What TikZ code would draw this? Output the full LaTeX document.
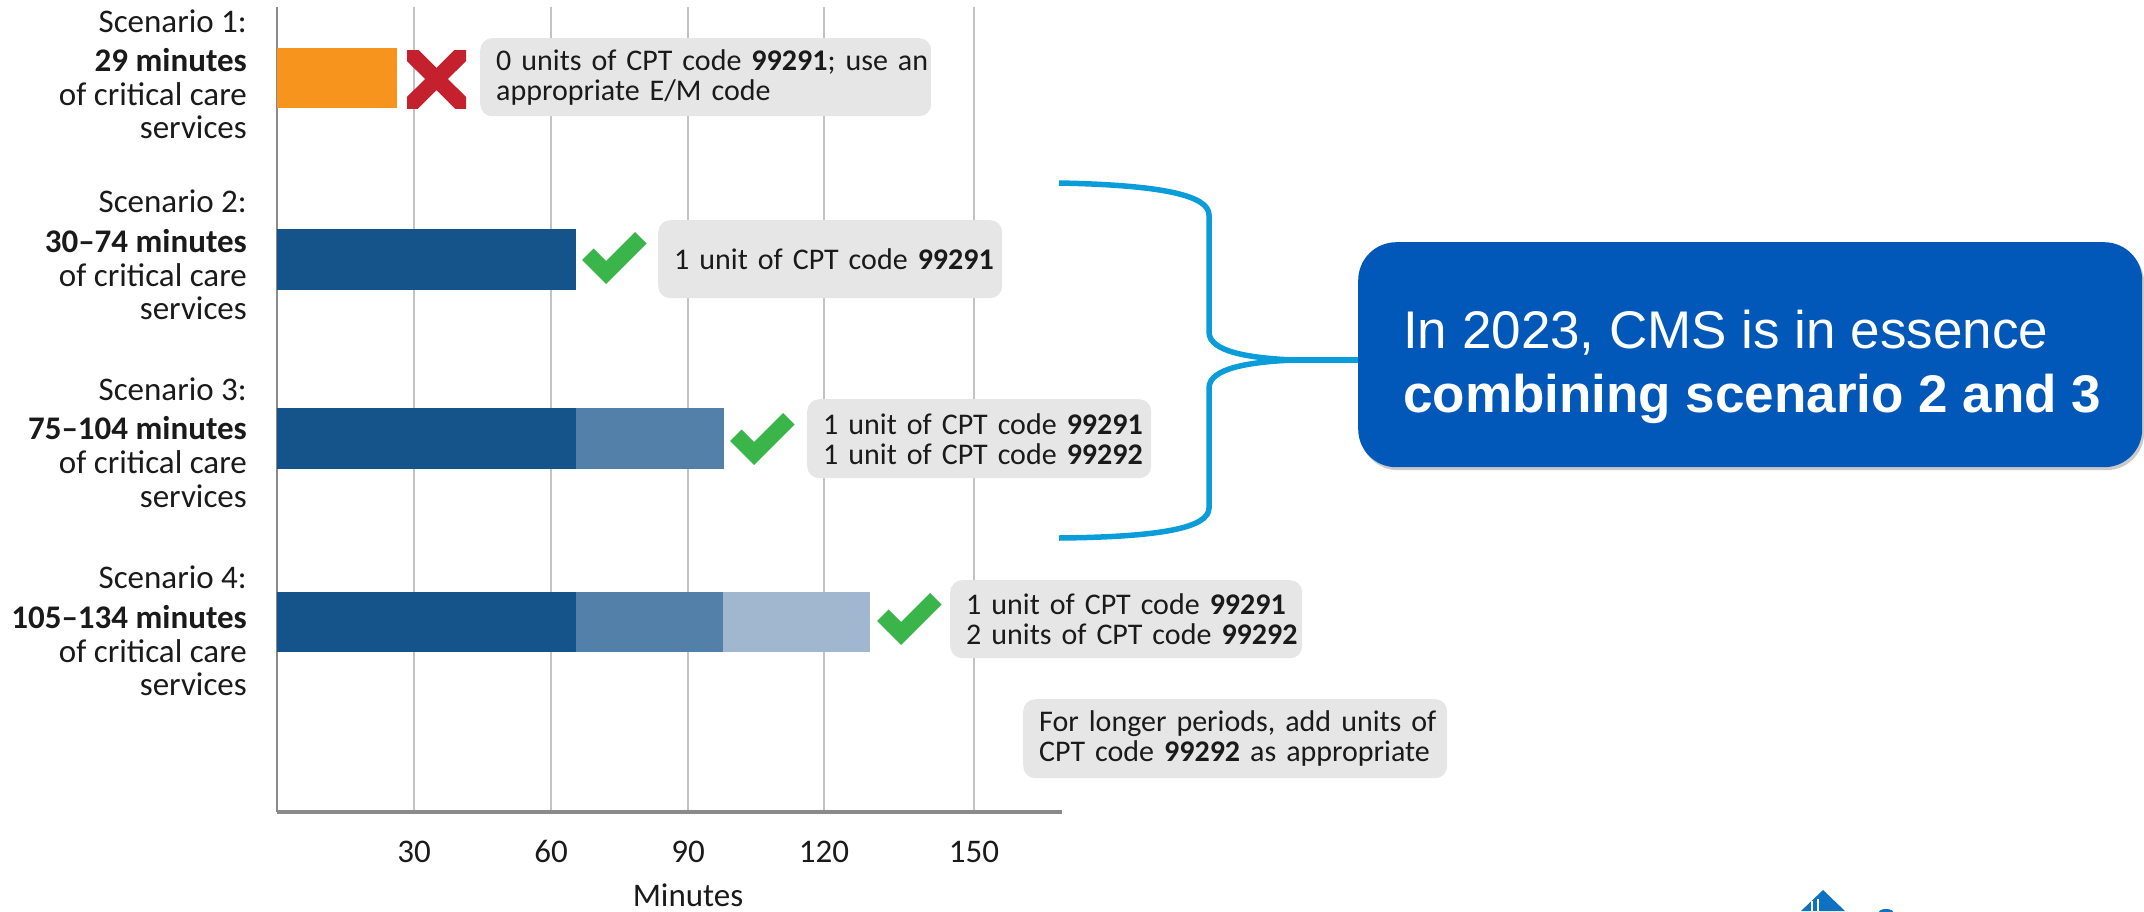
\documentclass[tikz,border=0pt]{standalone}
\usepackage{fontspec}
\setmainfont{Carlito}
\newfontfamily\arialf{Liberation Sans}
\usetikzlibrary{shadows}
\definecolor{barorange}{HTML}{F7941E}
\definecolor{bardark}{HTML}{14548A}
\definecolor{barmed}{HTML}{5380A9}
\definecolor{barlight}{HTML}{A1B7CF}
\definecolor{checkgreen}{HTML}{39B54A}
\definecolor{crossred}{HTML}{C5202E}
\definecolor{boxgray}{HTML}{E6E6E6}
\definecolor{gridgray}{HTML}{C3C3C3}
\definecolor{axisgray}{HTML}{8A8A8A}
\definecolor{bracecol}{HTML}{0B9CDA}
\definecolor{cmsblue}{HTML}{0258B8}
\definecolor{logoblue}{HTML}{0F71C1}
\definecolor{textblack}{HTML}{1A1A1A}
\newcommand{\GreenTick}[2]{%
  \begin{scope}[shift={(#1,#2)}]
    \fill[checkgreen] (0,28) -- (11.5,16.5) -- (24,29) -- (53,0) -- (64.5,11.5) -- (24,52) -- cycle;
  \end{scope}}
\begin{document}
\begin{tikzpicture}[x=1pt,y=-1pt,
  lbl/.style={anchor=base east, inner sep=0pt, text=textblack, font=\fontsize{33}{40}\selectfont},
  lblb/.style={lbl, font=\fontsize{33}{40}\selectfont\bfseries},
  ticklbl/.style={anchor=base, inner sep=0pt, text=textblack, font=\fontsize{33}{40}\selectfont},
  infobox/.style={anchor=north west, fill=boxgray, rounded corners=12pt, inner xsep=16pt, inner ysep=0pt, align=left, text=textblack, font=\fontsize{30}{30}\selectfont},
  gridline/.style={draw=gridgray, line width=2pt},
  bracestyle/.style={draw=bracecol, line width=5.5pt},
]
\useasboundingbox (0,0) rectangle (2144,911);

% grid
\foreach \gx in {414,551,688,824,974} \draw[gridline] (\gx,7) -- (\gx,812);
\draw[axisgray, line width=2.5pt] (277,7) -- (277,812);
\draw[axisgray, line width=4pt] (277,812) -- (1062,812);

% tick labels
\node[ticklbl] (t30) at (414,862) {30};
\node[ticklbl] (t60) at (551,862) {60};
\node[ticklbl] (t90) at (688,862) {90};
\node[ticklbl] (t120) at (824,862) {120};
\node[ticklbl] (t150) at (974,862) {150};
\node[ticklbl] (xlab) at (688,906) {Minutes};

% left labels
\node[lbl]  (s1a) at (247,32) {Scenario 1:};
\node[lblb] (s1b) at (247,71) {29 minutes};
\node[lbl]  (s1c) at (247,105) {of critical care};
\node[lbl]  (s1d) at (247,138) {services};
\node[lbl]  (s2a) at (247,212) {Scenario 2:};
\node[lblb] (s2b) at (247,252) {30–74 minutes};
\node[lbl]  (s2c) at (247,286) {of critical care};
\node[lbl]  (s2d) at (247,319) {services};
\node[lbl]  (s3a) at (247,400) {Scenario 3:};
\node[lblb] (s3b) at (247,439) {75–104 minutes};
\node[lbl]  (s3c) at (247,473) {of critical care};
\node[lbl]  (s3d) at (247,507) {services};
\node[lbl]  (s4a) at (247,588) {Scenario 4:};
\node[lblb] (s4b) at (247,628) {105–134 minutes};
\node[lbl]  (s4c) at (247,662) {of critical care};
\node[lbl]  (s4d) at (247,695) {services};

% bars
\fill[barorange] (277,48) rectangle (397,108);
\fill[bardark] (277,229) rectangle (576,290);
\fill[bardark] (277,408) rectangle (576,469);
\fill[barmed] (576,408) rectangle (724,469);
\fill[bardark] (277,592) rectangle (576,652);
\fill[barmed] (576,592) rectangle (723,652);
\fill[barlight] (723,592) rectangle (870,652);

% red cross
\begin{scope}
  \clip (407,50) rectangle (466,108);
  \draw[crossred, line width=16pt] (397,40) -- (476,118);
  \draw[crossred, line width=16pt] (476,40) -- (397,118);
\end{scope}

% ticks
\GreenTick{582}{232}
\GreenTick{730}{413}
\GreenTick{877}{593}

% info boxes
\node[infobox, text width=419pt, minimum height=78pt] (b1) at (480,38)
  {\mbox{0 units of CPT code \textbf{99291}; use an}\\\mbox{appropriate E/M code}};
\node[infobox, text width=312pt, minimum height=78pt] (b2) at (658,220)
  {\mbox{1 unit of CPT code \textbf{99291}}};
\node[infobox, text width=312pt, minimum height=79pt] (b3) at (807,399)
  {\mbox{1 unit of CPT code \textbf{99291}}\\\mbox{1 unit of CPT code \textbf{99292}}};
\node[infobox, text width=320pt, minimum height=78pt] (b4) at (950,580)
  {\mbox{1 unit of CPT code \textbf{99291}}\\\mbox{2 units of CPT code \textbf{99292}}};
\node[infobox, text width=392pt, minimum height=79pt] (b5) at (1023,699)
  {\mbox{For longer periods, add units of}\\\mbox{CPT code \textbf{99292} as appropriate}};

% CMS box
\node[anchor=north west, fill=cmsblue, rounded corners=38pt, minimum width=784pt, minimum height=225pt, inner sep=0pt,
  drop shadow={shadow xshift=2pt, shadow yshift=-3pt, opacity=0.35, fill=black!60}] (cms) at (1358,242) {};
\node[anchor=base west, inner sep=0pt, text=white, align=left, font=\arialf\fontsize{53}{64}\selectfont] (cmstext) at (1403,412)
  {In 2023, CMS is in essence\\\textbf{combining scenario 2 and 3}};

% brace
\coordinate (tip) at (1293,360);
\draw[bracestyle] (1059,183) .. controls (1160,185) and (1209,195) .. (1209,215) -- (1209,332)
  .. controls (1209,352) and (1250,358) .. (tip)
  .. controls (1250,362) and (1209,368) .. (1209,388) -- (1209,508)
  .. controls (1209,528) and (1160,537) .. (1059,538);
\draw[bracestyle] (tip) -- (tip -| cms.west);

% logo fragment
\fill[logoblue] (1823,890) -- (1801,911) -- (1845,911) -- cycle;
\fill[white] (1811,901) rectangle (1813,911);
\fill[white] (1817,899) rectangle (1819,911);
\fill[logoblue] (1886,912) ellipse (7 and 3);
\end{tikzpicture}
\end{document}
